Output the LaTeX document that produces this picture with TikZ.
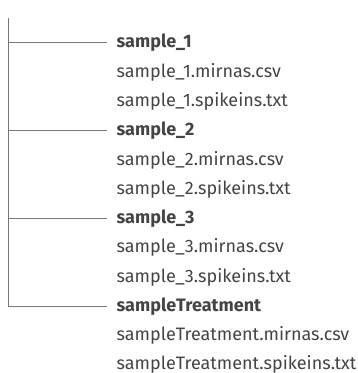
\documentclass[tikz,border=0pt]{standalone}
\usepackage{fontspec}
\setmainfont{Fira Sans}
\definecolor{txt}{HTML}{444444}
\definecolor{ln}{HTML}{777777}
\begin{document}
\begin{tikzpicture}[x=1pt,y=-1pt,
  item/.style={anchor=west,inner sep=0pt,text=txt,font=\fontsize{18}{20}\selectfont},
  dir/.style={item,font=\fontsize{18}{20}\selectfont\bfseries},
  branch/.style={draw=ln,line width=0.9pt}]
\useasboundingbox (0,0) rectangle (358,373);
\node[dir]  (s1)  at (116.5,42.7) {sample\_1};
\node[item] (s1a) at (116.5,72.0) {sample\_1.mirnas.csv};
\node[item] (s1b) at (116.5,101.3) {sample\_1.spikeins.txt};
\node[dir]  (s2)  at (116.5,130.6) {sample\_2};
\node[item] (s2a) at (116.5,159.9) {sample\_2.mirnas.csv};
\node[item] (s2b) at (116.5,189.2) {sample\_2.spikeins.txt};
\node[dir]  (s3)  at (116.5,218.5) {sample\_3};
\node[item] (s3a) at (116.5,247.8) {sample\_3.mirnas.csv};
\node[item] (s3b) at (116.5,277.1) {sample\_3.spikeins.txt};
\node[dir]  (st)  at (116.5,306.4) {sampleTreatment};
\node[item] (sta) at (116.5,335.7) {sampleTreatment.mirnas.csv};
\node[item] (stb) at (116.5,364.5) {sampleTreatment.spikeins.txt};
\coordinate (top) at (8,18);
\coordinate (t1) at (8,42.7);
\coordinate (t2) at (8,130.6);
\coordinate (t3) at (8,218.5);
\coordinate (t4) at (8,306.4);
\draw[branch] (top) -- (t4) -- ([xshift=-10pt]st.west);
\draw[branch] (t1) -- ([xshift=-10pt]s1.west);
\draw[branch] (t2) -- ([xshift=-10pt]s2.west);
\draw[branch] (t3) -- ([xshift=-10pt]s3.west);
\end{tikzpicture}
\end{document}
